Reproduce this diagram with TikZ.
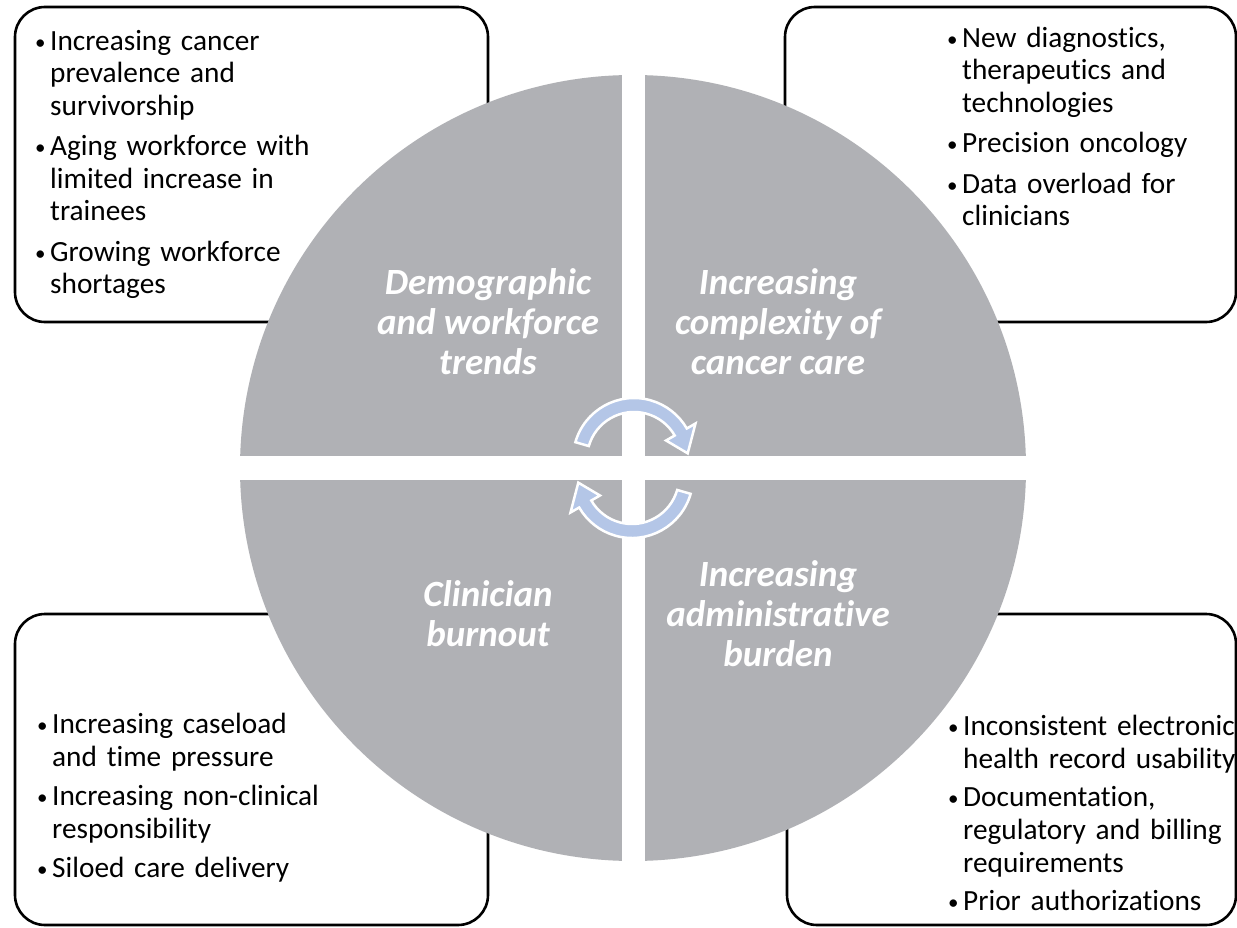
\documentclass[tikz,border=0pt]{standalone}
\usepackage{fontspec}
\setmainfont{Carlito}[Ligatures=NoCommon]
\definecolor{piegray}{RGB}{176,177,181}
\definecolor{cycleblue}{RGB}{180,198,231}
% bullet with hanging indent; \newline keeps the hang
\newcommand{\bulmark}{\hangindent=15pt\hangafter=1%
  \makebox[15pt][l]{\raisebox{1pt}{\fontsize{21}{21}\selectfont\textbullet}}}
\newcommand{\firstbul}{\noindent\bulmark\strut}
\newcommand{\bul}{\par\noindent\bulmark}

\begin{document}
\begin{tikzpicture}[x=1pt,y=-1pt,
    box/.style={draw=black,line width=2.6pt,rounded corners=30pt},
    title/.style={text=white,align=center,inner sep=0pt,%
      font=\fontsize{37}{40}\selectfont\bfseries\itshape},
    list/.style={anchor=north west,inner sep=0pt,text width=330pt,align=left},
    cycle arrow/.style={fill=cycleblue,draw=white,line width=2.5pt,line join=miter}]
      \useasboundingbox[fill=white] (0,0) rectangle (1237,928) ;
      % frames behind the disc
      \draw[box] (15,7) rectangle (488,322) ;
      \draw[box] (785,7) rectangle (1236,322) ;
      \draw[box] (15,614) rectangle (488,925) ;
      \draw[box] (787,614) rectangle (1236,925) ;
      % the four quarters
      \coordinate (O) at (633,468) ;
      \begin{scope}
        \clip (O) circle (393) ;
        \fill[piegray] (230,60) rectangle (622,456) ;
        \fill[piegray] (645,60) rectangle (1040,456) ;
        \fill[piegray] (230,480) rectangle (622,880) ;
        \fill[piegray] (645,480) rectangle (1040,880) ;
      \end{scope}
      \node[title] (T1) at (488,322) {Demographic\\and workforce\\trends} ;
      \node[title] (T2) at (778,322) {Increasing\\complexity of\\cancer care} ;
      \node[title] (T3) at (488,614) {Clinician\\burnout} ;
      \node[title] (T4) at (778,614) {Increasing\\administrative\\burden} ;
      % cycle arrows
      \begin{scope}[shift={(634,459)}]
        \filldraw[cycle arrow] (-164:61) arc[start angle=-164,end angle=-30,radius=61]
          -- (-30:71) -- (-6:54) -- (-30:37) -- (-30:47)
          arc[start angle=-30,end angle=-164,radius=47] -- cycle ;
      \end{scope}
      \begin{scope}[shift={(632,477)},rotate=180]
        \filldraw[cycle arrow] (-164:61) arc[start angle=-164,end angle=-30,radius=61]
          -- (-30:71) -- (-6:54) -- (-30:37) -- (-30:47)
          arc[start angle=-30,end angle=-164,radius=47] -- cycle ;
      \end{scope}
      % bullet lists
      \node[list,font=\fontsize{29.3}{32.5}\selectfont\setlength{\parskip}{8pt}] %
      (L1) at (35,27.25) {\firstbul Increasing cancer\newline prevalence and\newline survivorship
        \bul Aging workforce with\newline limited increase in\newline trainees
        \bul Growing workforce\newline shortages\par} ;
      \node[list,font=\fontsize{29.3}{32.5}\selectfont\setlength{\parskip}{8pt}] %
      (L2) at (947,24.25) {\firstbul New diagnostics,\newline therapeutics and\newline technologies
        \bul Precision oncology
        \bul Data overload for\newline clinicians\par} ;
      \node[list,font=\fontsize{29.3}{33}\selectfont\setlength{\parskip}{6pt}] %
      (L3) at (37,710) {\firstbul Increasing caseload\newline and time pressure
        \bul Increasing non-clinical\newline responsibility
        \bul Siloed care delivery\par} ;
      \node[list,font=\fontsize{29.3}{33}\selectfont\setlength{\parskip}{5pt}] %
      (L4) at (948,712) {\firstbul Inconsistent electronic\newline health record usability
        \bul Documentation,\newline regulatory and billing\newline requirements
        \bul Prior authorizations\par} ;
    \end{tikzpicture}
\end{document}
